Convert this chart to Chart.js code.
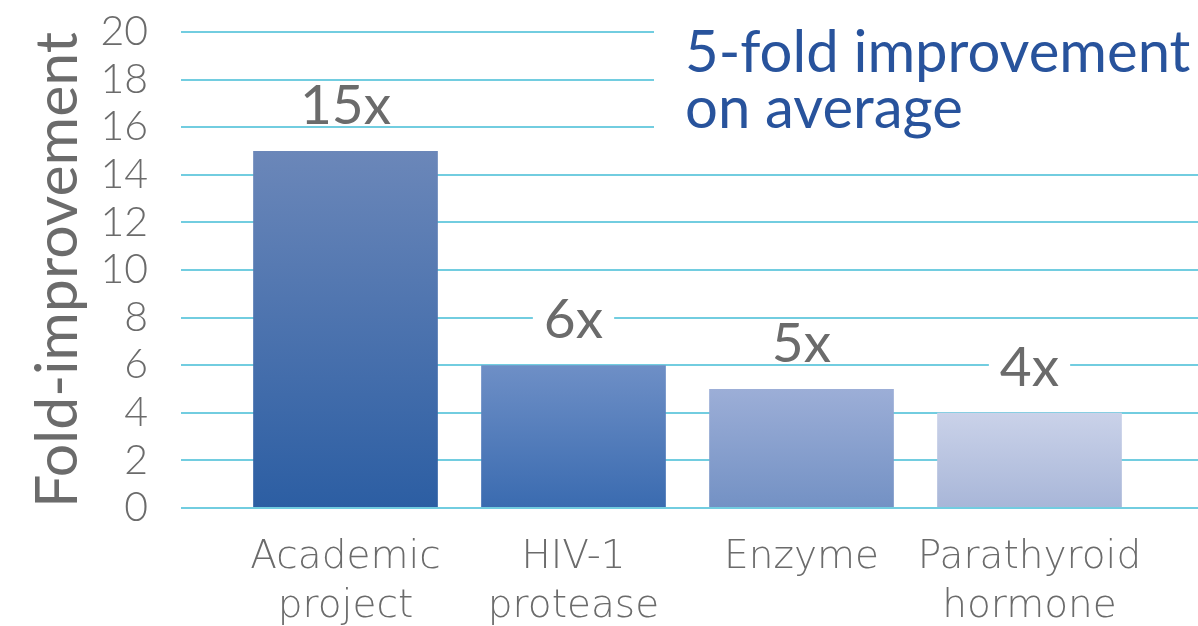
<!DOCTYPE html>
<html>
<head>
<meta charset="utf-8">
<script src="https://cdn.jsdelivr.net/npm/chart.js@4"></script>
<style>
  html, body { margin: 0; padding: 0; background: #fff; }
  #wrap { width: 1198px; height: 626px; }
</style>
</head>
<body>
<div id="wrap"><canvas id="foldChart" width="1198" height="626"></canvas></div>
<script>
  // Fold-improvement per project
  const categories = [["Academic", "project"], ["HIV-1", "protease"], ["Enzyme"], ["Parathyroid", "hormone"]];
  const folds = [15, 6, 5, 4];
  const yTicks = [0, 2, 4, 6, 8, 10, 12, 14, 16, 18, 20];

  // bar shading, top -> bottom
  const barTop = ["#6b87b9", "#6e8fc6", "#9caed7", "#cad2e9"];
  const barBottom = ["#2c5ea3", "#3a6bb0", "#7391c4", "#a8b6d8"];

  const grey = "#6b6b6b";
  const font = "Lato, 'DejaVu Sans', sans-serif";
  const wideFont = "'DejaVu Sans', Lato, sans-serif";

  function barFill(c) {
    const chart = c.chart, i = c.dataIndex;
    const y = chart.scales && chart.scales.y;
    if (!chart.chartArea || !y) return barTop[i];
    const g = chart.ctx.createLinearGradient(0, y.getPixelForValue(folds[i]), 0, y.getPixelForValue(0));
    g.addColorStop(0, barTop[i]);
    g.addColorStop(1, barBottom[i]);
    return g;
  }

  // "15x" style labels over each bar; a tight white patch hides the grid behind the glyphs
  const valueLabels = {
    id: "valueLabels",
    afterDatasetsDraw(chart) {
      const ctx = chart.ctx;
      const size = 55, cap = size * 0.72;
      ctx.save();
      ctx.font = size + "px " + font;
      ctx.textAlign = "center";
      ctx.textBaseline = "alphabetic";
      chart.getDatasetMeta(0).data.forEach((bar, i) => {
        const text = folds[i] + "x";
        const w = ctx.measureText(text).width;
        const base = bar.y - 47 + cap / 2;
        ctx.fillStyle = "#fff";
        ctx.fillRect(bar.x - w / 2 - 11, base - cap - 2, w + 22, cap + 4);
        ctx.fillStyle = grey;
        ctx.fillText(text, bar.x, base);
      });
      ctx.restore();
    }
  };

  // headline in the top right corner
  const headline = {
    id: "headline",
    afterDatasetsDraw(chart) {
      const ctx = chart.ctx;
      const left = chart.chartArea.right - 544;
      ctx.save();
      ctx.fillStyle = "#fff";
      ctx.fillRect(left, 18, chart.chartArea.right - left, 124);
      ctx.fillStyle = "#28539c";
      ctx.font = "58px " + font;
      ctx.textAlign = "left";
      ctx.textBaseline = "alphabetic";
      ctx.fillText("5-fold improvement", left + 31, 72);
      ctx.fillText("on average", left + 31, 128);
      ctx.restore();
    }
  };

  new Chart(document.getElementById("foldChart"), {
    type: "bar",
    data: {
      datasets: [{
        data: folds.map((v, i) => ({ x: i, y: v })),
        backgroundColor: barFill,
        borderWidth: 0,
        barPercentage: 0.81,
        categoryPercentage: 1
      }]
    },
    options: {
      responsive: false,
      animation: false,
      layout: { padding: { top: 32, right: 0, left: 0, bottom: 0 } },
      plugins: { legend: { display: false }, tooltip: { enabled: false } },
      scales: {
        x: {
          type: "linear",
          offset: false,
          min: -0.7215,
          max: 3.739,
          grid: { display: false, offset: false },
          border: { display: false },
          afterBuildTicks: (s) => { s.ticks = categories.map((_, i) => ({ value: i })); },
          afterFit: (s) => { s.height = 118; },
          ticks: {
            autoSkip: false,
            maxRotation: 0,
            padding: 17,
            color: grey,
            font: { family: wideFont, size: 39, weight: 200, lineHeight: 1.27 },
            callback: (v) => categories[v]
          }
        },
        y: {
          min: 0,
          max: 20,
          afterBuildTicks: (s) => { s.ticks = yTicks.map(v => ({ value: v })); },
          afterFit: (s) => { s.width = 181; s.paddingTop = 0; s.paddingBottom = 0; },
          border: { display: false },
          grid: { color: "#72cde0", lineWidth: 2, drawTicks: false },
          ticks: {
            autoSkip: false,
            padding: 33,
            color: grey,
            font: { family: font, size: 41, weight: 300 }
          },
          title: {
            display: true,
            text: "Fold-improvement",
            color: grey,
            padding: { top: 28, bottom: 0 },
            font: { family: font, size: 59, lineHeight: 1 }
          }
        }
      }
    },
    plugins: [valueLabels, headline]
  });
</script>
</body>
</html>
